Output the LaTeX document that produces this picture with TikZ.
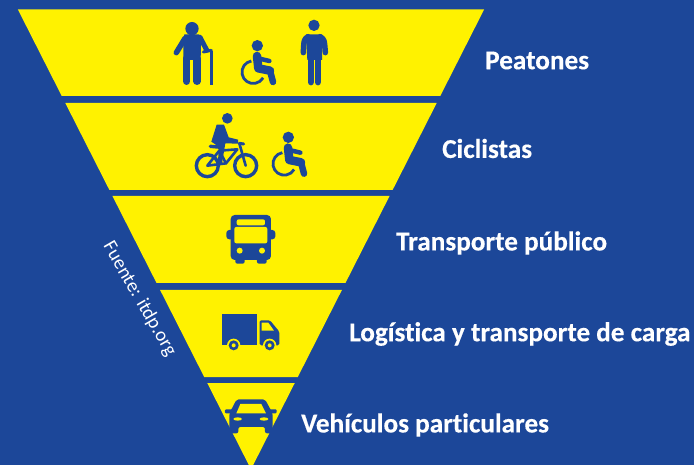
\documentclass[tikz,border=0pt]{standalone}
\usepackage{fontspec}
\setmainfont{Carlito}[Ligatures=NoCommon, BoldFeatures={FakeBold=0.35}]
\usetikzlibrary{positioning}
\definecolor{bgblue}{HTML}{1C4799}
\definecolor{bandyellow}{HTML}{FFF200}
\tikzset{
  label/.style={anchor=west, text=white, font=\bfseries\fontsize{27.2}{27}\selectfont, inner sep=0pt},
  icon/.style={fill=bgblue, draw=none},
  limb/.style={draw=bgblue, line cap=round, line join=round},
  cutout/.style={fill=bandyellow, draw=none},
  pics/wheelchair/.style={code={
    \begin{scope}[scale=1/3, shift={(-322,-137)}]
      \fill[icon] (322,137) circle (17);
      \draw[limb, line width=8.5pt] (321,168) -- (325,205) -- (360,212);
      \draw[limb, line width=6.5pt] (360,212) -- (369,246);
      \draw[limb, line width=4.5pt] (325,175) -- (358,183);
      \draw[limb, line width=2.8pt, line cap=butt] (304,183) arc[start angle=260, end angle=30, radius=34];
    \end{scope}
  }},
}
\newcommand{\bandhalf}[1]{0.507*(469.3-#1)}
\begin{document}
\begin{tikzpicture}[x=1pt, y=-1pt]
  \fill[bgblue] (0,0) rectangle (694,465);
  \useasboundingbox (0,0) rectangle (694,465);
  \clip (0,0) rectangle (694,465);
  % bands
  \foreach \top/\bot in {9.5/96, 103/190, 196/283, 290/377, 383/469.3} {
    \fill[bandyellow] ({251-\bandhalf{\top}},\top) -- ({251+\bandhalf{\top}},\top)
      -- ({251+\bandhalf{\bot}},\bot) -- ({251-\bandhalf{\bot}},\bot) -- cycle;
  }
  \node[label] (peatones) at (485,60.5) {Peatones};
  \node[label] (ciclistas) at (442,148.5) {Ciclistas};
  \node[label] (publico) at (396,243) {Transporte público};
  \node[label] (carga) at (349,334) {Logística y transporte de carga};
  \node[label] (particulares) at (301,425) {Vehículos particulares};
  \node[rotate=-60, text=white, font=\fontsize{19.5}{20}\selectfont, inner sep=0pt] (fuente) at (139.5,299) {Fuente: itdp.org};
  % upper icons, zoomed coordinates
  \begin{scope}[shift={(150,0)}, scale=1/3]
    % old man
    \fill[icon] (126,86) circle (20);
    \fill[icon] (103,103) -- (148,103) -- (153,125) -- (152,180) -- (100,180) -- (100,125) -- cycle;
    \draw[limb, line width=7.3pt] (110,175) -- (110,244);
    \draw[limb, line width=7.3pt] (141,175) -- (141,244);
    \draw[limb, line width=5.5pt] (105,115) -- (79,158);
    \draw[limb, line width=5pt] (150,112) -- (170,150);
    \draw[limb, line width=3pt, line cap=butt] (184,152) -- (184,255);
    \draw[limb, line width=3pt] (160,156) -- (184,151);
    % man
    \fill[icon] (492,76) circle (17);
    \fill[icon] (468,103) -- (516,103) -- (516,180) -- (472,180) -- cycle;
    \draw[limb, line width=6.8pt] (483,175) -- (483,246);
    \draw[limb, line width=6.8pt] (504,175) -- (504,246);
    \draw[limb, line width=5.5pt] (474,110) .. controls (462,118) .. (460,158);
    \draw[limb, line width=5.5pt] (510,110) .. controls (523,118) .. (526,158);
    % wheelchairs
    \pic at (322,137) {wheelchair};
    \pic at (415,412) {wheelchair};
    % cyclist
    \fill[icon] (232,355) circle (16);
    \fill[icon] (200,374) -- (222,374) -- (236,412) -- (264,419) -- (264,431) -- (226,430) -- (216,490) -- (204,490) -- (206,440) -- (184,425) -- cycle;
    \draw[limb, line width=3.4pt] (172,497) circle (33);
    \draw[limb, line width=3.4pt] (287,497) circle (33);
    \draw[limb, line width=2.6pt] (172,497) -- (208,452) -- (262,448) -- (228,490) -- cycle;
    \draw[limb, line width=2.6pt] (208,452) -- (228,490);
    \draw[limb, line width=2.6pt] (268,430) -- (287,497);
    \draw[limb, line width=3pt] (268,430) -- (281,432);
    \draw[limb, line width=3.4pt] (181,439) -- (214,442);
  \end{scope}
  % lower icons, zoomed coordinates
  \begin{scope}[shift={(90,200)}, scale=1/3]
    % bus
    \fill[icon, rounded corners=4pt] (422,45) rectangle (543,180);
    \fill[icon, rounded corners=3pt] (409,90) rectangle (556,118);
    \fill[icon, rounded corners=2pt] (436,170) rectangle (464,191);
    \fill[icon, rounded corners=2pt] (501,170) rectangle (530,191);
    \fill[cutout, rounded corners=2pt] (440,58) rectangle (525,76);
    \fill[cutout, rounded corners=2pt] (433,81) rectangle (532,130);
    \fill[cutout] (449,152) circle (9);
    \fill[cutout] (516,152) circle (9);
    % truck
    \fill[icon] (397,343) rectangle (501,436);
    \fill[icon, rounded corners=1.5pt] (509,361) -- (540,361) -- (568,395) -- (568,436) -- (509,436) -- cycle;
    \fill[cutout] (515,368) -- (535,368) -- (552,392) -- (515,392) -- cycle;
    \foreach \wheelx in {431,539} {
      \fill[cutout] (\wheelx,436) circle (20);
      \fill[icon] (\wheelx,436) circle (15);
      \fill[cutout] (\wheelx,436) circle (6);
    }
    % car
    \fill[icon, rounded corners=2pt] (440,598) -- (525,598) -- (548,640) -- (548,700) -- (525,700) -- (525,681) -- (445,681) -- (445,700) -- (418,700) -- (418,640) -- cycle;
    \fill[icon, rounded corners=1pt] (405,628) rectangle (432,640);
    \fill[icon, rounded corners=1pt] (534,628) rectangle (560,640);
    \fill[cutout] (439,640) -- (451,612) -- (514,612) -- (528,640) -- cycle;
    \fill[cutout] (443,657) ellipse (13 and 5);
    \fill[cutout] (522,657) ellipse (13 and 5);
  \end{scope}
\end{tikzpicture}
\end{document}
